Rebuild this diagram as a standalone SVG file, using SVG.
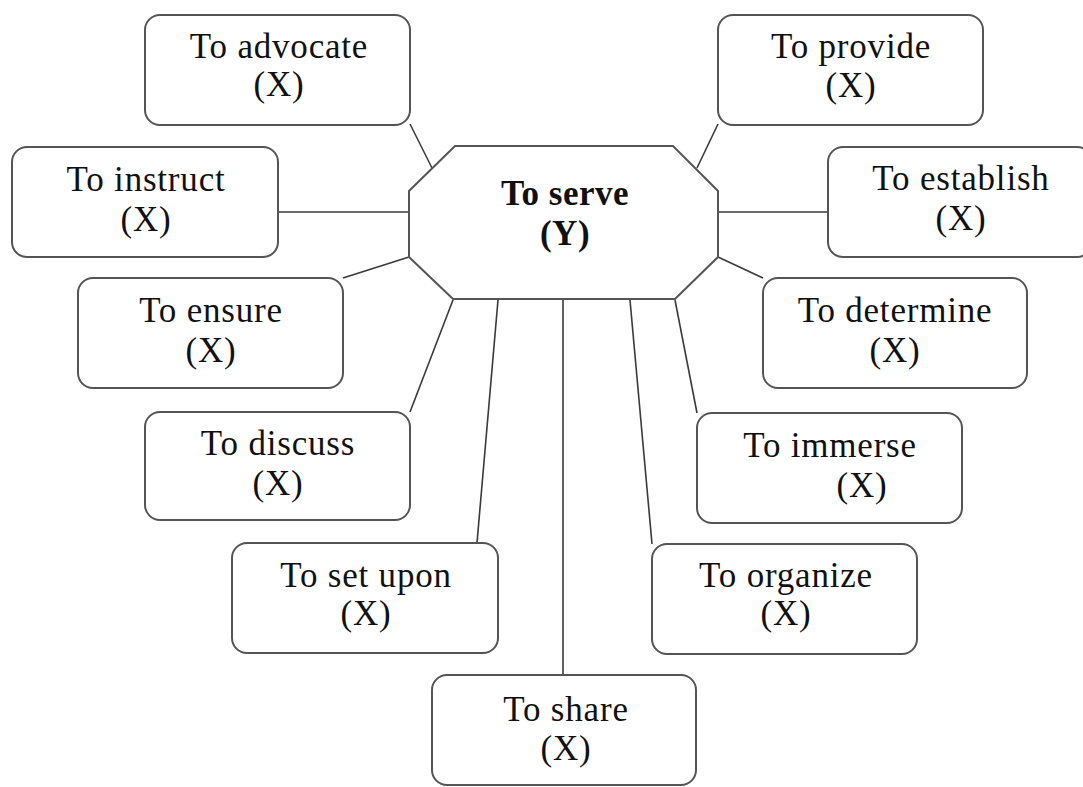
<svg xmlns="http://www.w3.org/2000/svg" width="1083" height="787" viewBox="0 0 1083 787">
  <style>
    .box { fill: #ffffff; stroke: #555555; stroke-width: 2; }
    .hub { fill: #ffffff; stroke: #555555; stroke-width: 2; }
    .link { fill: none; stroke: #3a3a3a; stroke-width: 1.6; }
    .label { font-family: 'Liberation Serif', Tinos, 'Times New Roman', serif; font-size: 35px; letter-spacing: 0.8px; fill: #111111; text-anchor: middle; }
    .hub-label { font-family: 'Liberation Serif', Tinos, 'Times New Roman', serif; font-size: 35px; letter-spacing: 0.5px; font-weight: bold; fill: #111111; text-anchor: middle; }
  </style>
  <rect width="1083" height="787" fill="#ffffff"/>

  <!-- connectors from the hub to each action -->
  <g id="connectors">
    <line class="link" x1="432" y1="168" x2="410" y2="124"/>
    <line class="link" x1="409" y1="212" x2="278" y2="212"/>
    <line class="link" x1="409" y1="257" x2="343" y2="278"/>
    <line class="link" x1="453" y1="300" x2="410" y2="412"/>
    <line class="link" x1="498" y1="300" x2="477" y2="543"/>
    <line class="link" x1="563" y1="300" x2="563" y2="675"/>
    <line class="link" x1="630" y1="300" x2="652" y2="544"/>
    <line class="link" x1="675" y1="300" x2="697" y2="413"/>
    <line class="link" x1="718" y1="257" x2="763" y2="278"/>
    <line class="link" x1="718" y1="212" x2="828" y2="212"/>
    <line class="link" x1="697" y1="168" x2="718" y2="124"/>
  </g>

  <!-- central hub -->
  <g id="hub">
    <polygon class="hub" points="455,146 673,146 718,191 718,257 675,299 453,299 409,257 409,191"/>
    <text class="hub-label" x="565" y="205">To serve</text>
    <text class="hub-label" x="565" y="245">(Y)</text>
  </g>

  <g id="advocate">
    <rect class="box" x="145" y="15" width="265" height="110" rx="15"/>
    <text class="label" x="279" y="58">To advocate</text>
    <text class="label" x="279" y="96">(X)</text>
  </g>

  <g id="instruct">
    <rect class="box" x="12" y="147" width="266" height="110" rx="15"/>
    <text class="label" x="146" y="191">To instruct</text>
    <text class="label" x="146" y="231">(X)</text>
  </g>

  <g id="ensure">
    <rect class="box" x="78" y="278" width="265" height="110" rx="15"/>
    <text class="label" x="211" y="322">To ensure</text>
    <text class="label" x="211" y="362">(X)</text>
  </g>

  <g id="discuss">
    <rect class="box" x="145" y="412" width="265" height="108" rx="15"/>
    <text class="label" x="278" y="455">To discuss</text>
    <text class="label" x="278" y="495">(X)</text>
  </g>

  <g id="set-upon">
    <rect class="box" x="232" y="543" width="266" height="110" rx="15"/>
    <text class="label" x="366" y="587">To set upon</text>
    <text class="label" x="366" y="625">(X)</text>
  </g>

  <g id="share">
    <rect class="box" x="432" y="675" width="264" height="110" rx="15"/>
    <text class="label" x="566" y="721">To share</text>
    <text class="label" x="566" y="760">(X)</text>
  </g>

  <g id="organize">
    <rect class="box" x="652" y="544" width="265" height="110" rx="15"/>
    <text class="label" x="786" y="587">To organize</text>
    <text class="label" x="786" y="625">(X)</text>
  </g>

  <g id="immerse">
    <rect class="box" x="697" y="413" width="265" height="110" rx="15"/>
    <text class="label" x="830" y="457">To immerse</text>
    <text class="label" x="862" y="497">(X)</text>
  </g>

  <g id="determine">
    <rect class="box" x="763" y="278" width="264" height="110" rx="15"/>
    <text class="label" x="895" y="322">To determine</text>
    <text class="label" x="895" y="362">(X)</text>
  </g>

  <g id="establish">
    <rect class="box" x="828" y="147" width="264" height="110" rx="15"/>
    <text class="label" x="961" y="190">To establish</text>
    <text class="label" x="961" y="230">(X)</text>
  </g>

  <g id="provide">
    <rect class="box" x="718" y="15" width="265" height="110" rx="15"/>
    <text class="label" x="851" y="58">To provide</text>
    <text class="label" x="851" y="97">(X)</text>
  </g>
</svg>
